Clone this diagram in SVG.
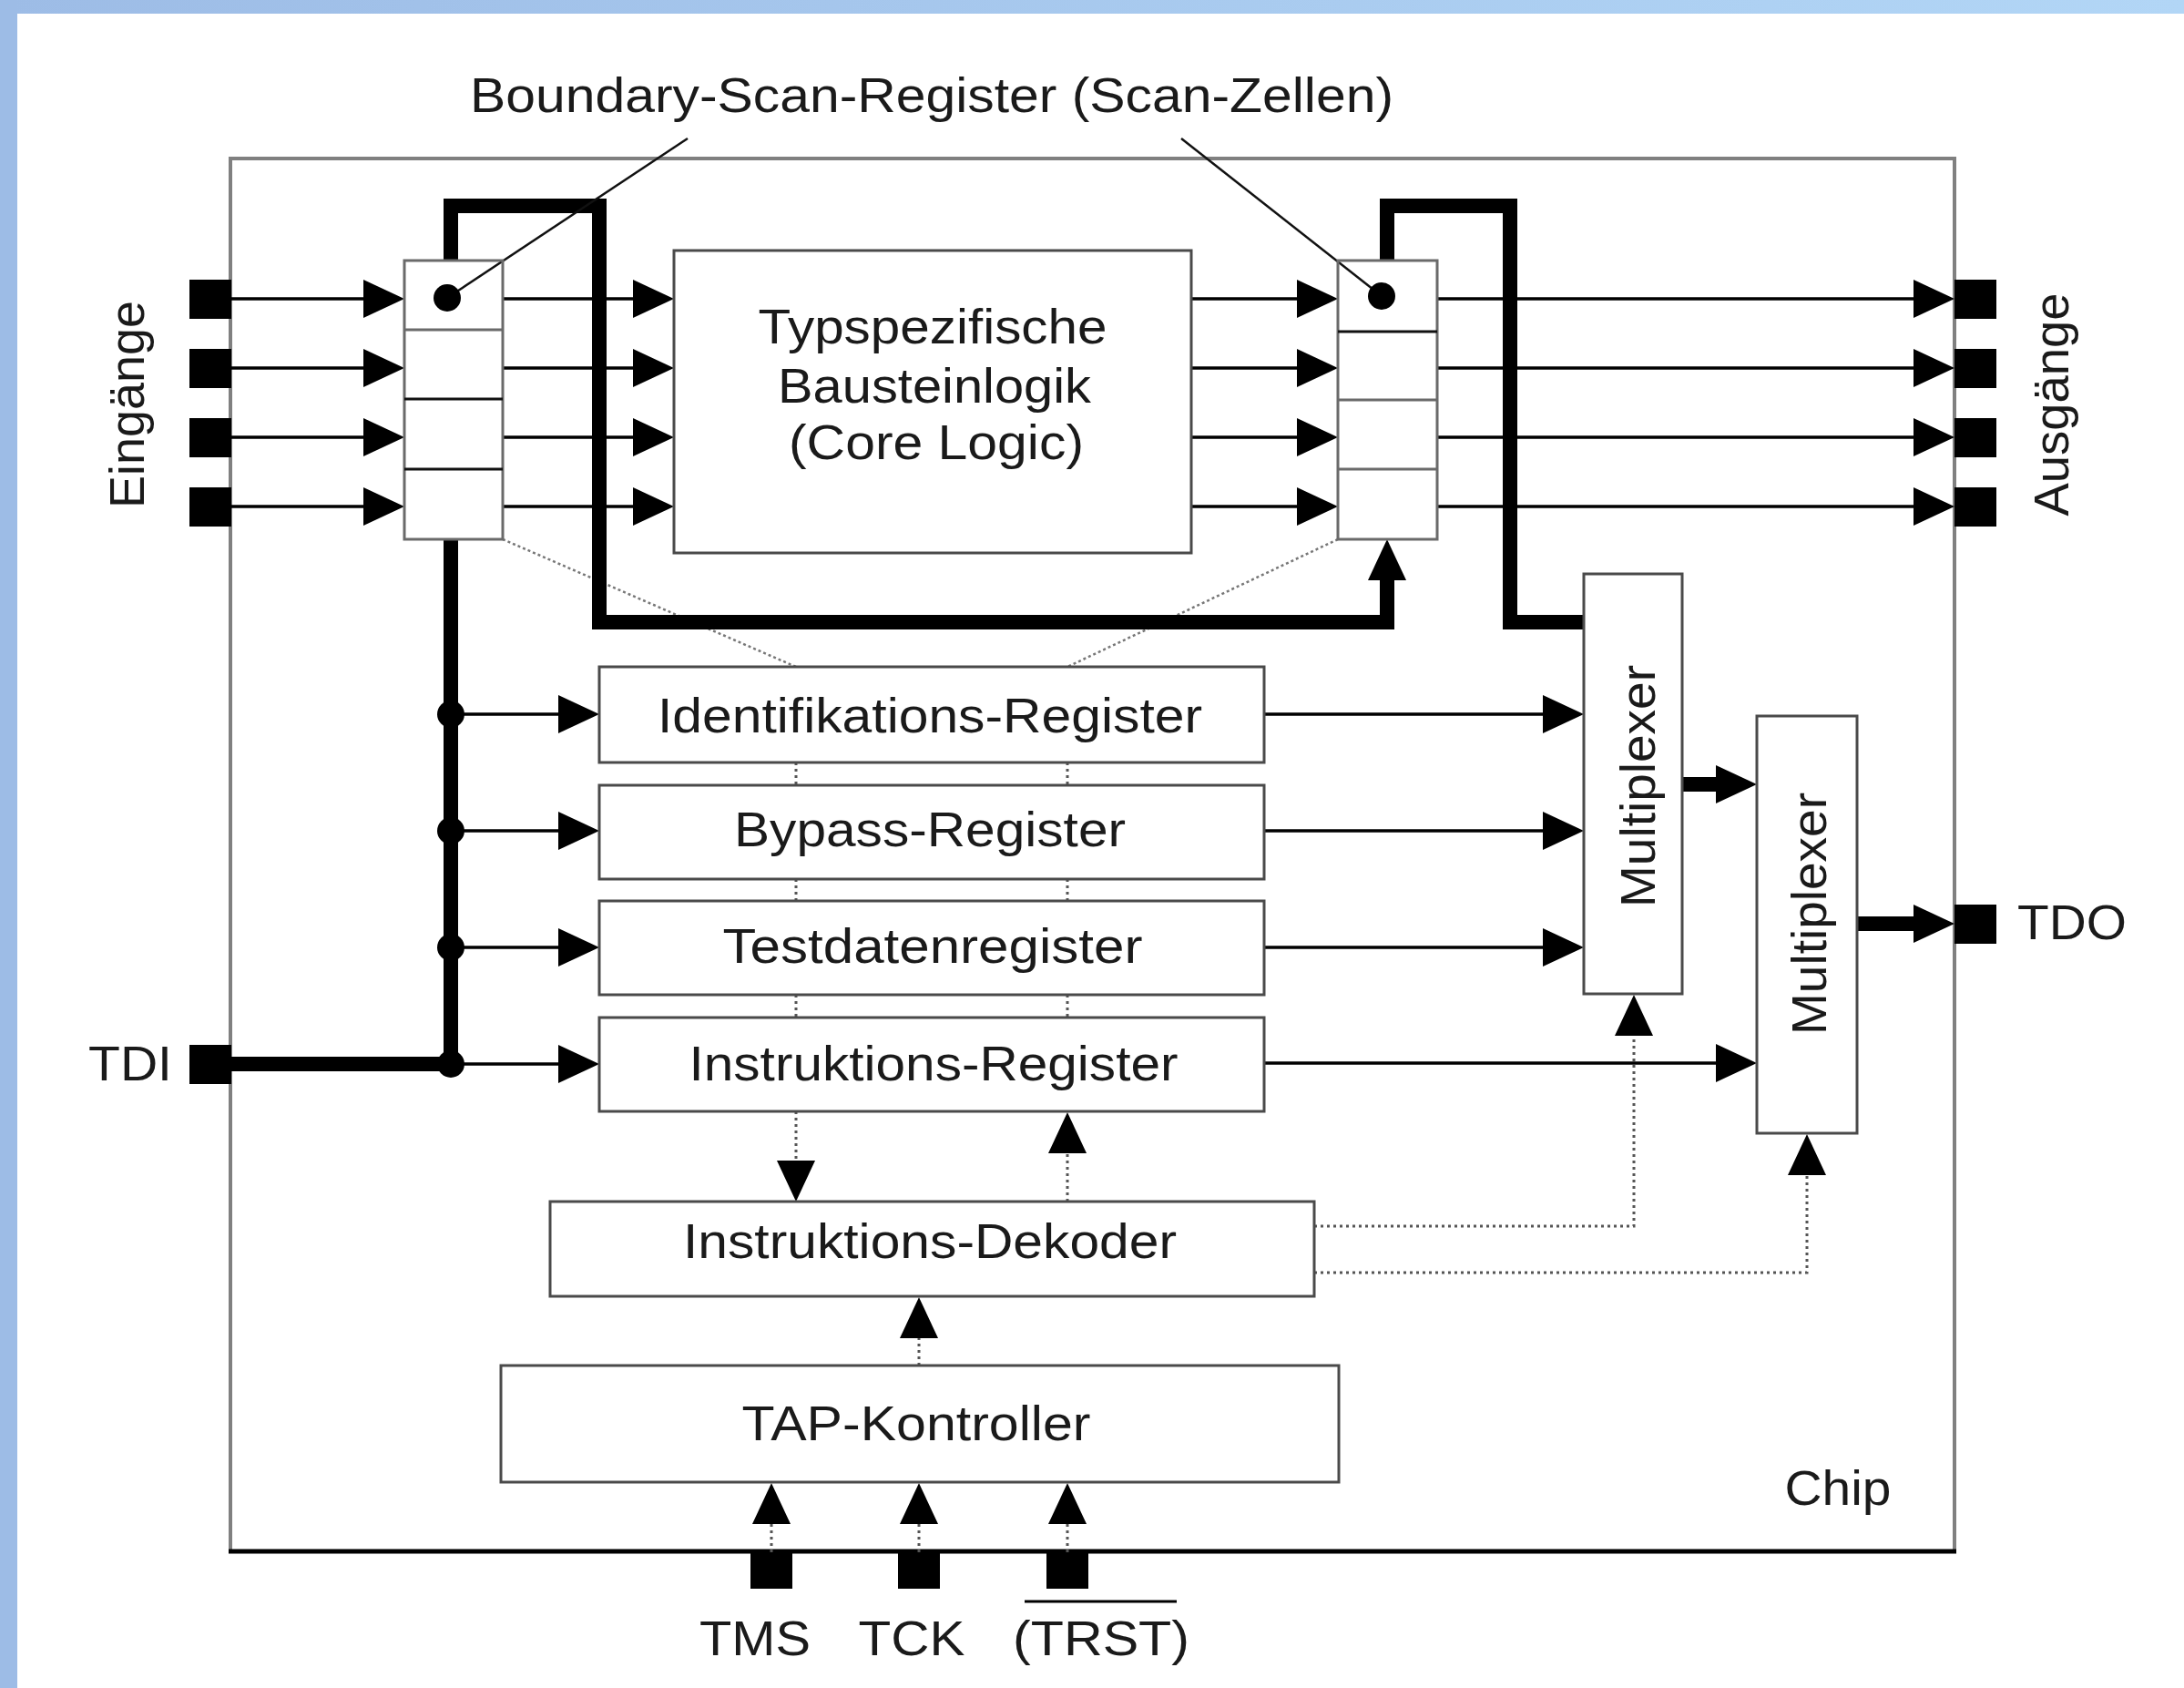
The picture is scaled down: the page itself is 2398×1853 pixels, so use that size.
<svg xmlns="http://www.w3.org/2000/svg" width="2398" height="1853" viewBox="0 0 2398 1853">
<defs>
<linearGradient id="topbar" x1="0" x2="1" y1="0" y2="0"><stop offset="0" stop-color="#9dbce6"/><stop offset="1" stop-color="#b2d6f6"/></linearGradient>
<marker id="ah" markerUnits="userSpaceOnUse" markerWidth="46" markerHeight="44" refX="0" refY="21" orient="auto" overflow="visible"><path d="M0,0 L45,21 L0,42 z" fill="#000"/></marker>
</defs>
<style>
.box{fill:#fff;stroke:#4a4a4a;stroke-width:3}
.cell{fill:none;stroke:#6a6a6a;stroke-width:3}
.thin{fill:none;stroke:#000;stroke-width:3.5}
.thick{fill:none;stroke:#000;stroke-width:16;stroke-linejoin:miter}
.dots{fill:none;stroke:#555;stroke-width:3;stroke-dasharray:3 4}
.fan{fill:none;stroke:#777;stroke-width:2.5;stroke-dasharray:3 3}
.lead{fill:none;stroke:#111;stroke-width:2.5}
.pin{fill:#000}
.arr{marker-end:url(#ah)}
text{font-family:'Liberation Sans',Arial,Helvetica,sans-serif;font-size:54px;fill:#1a1a1a}
</style>
<rect x="0" y="0" width="2398" height="1853" fill="#fff"/>
<rect x="0" y="0" width="2398" height="15" fill="url(#topbar)"/>
<rect x="0" y="0" width="19" height="1853" fill="#9dbce6"/>

<g id="chip">
<rect x="253" y="174" width="1893" height="1529" fill="none" stroke="#808080" stroke-width="4"/>
<line x1="251" y1="1703" x2="2148" y2="1703" stroke="#000" stroke-width="5"/>
<text x="2018" y="1652" text-anchor="middle" textLength="117" lengthAdjust="spacingAndGlyphs">Chip</text>
</g>

<g id="title">
<text x="1023" y="123" text-anchor="middle" textLength="1014" lengthAdjust="spacingAndGlyphs">Boundary-Scan-Register (Scan-Zellen)</text>
</g>

<g id="connectors">
<path class="fan" d="M552,592 L874,732"/>
<path class="fan" d="M1469,592 L1172,732"/>
<path class="thin arr" d="M253,328 H399"/>
<path class="thin arr" d="M253,404 H399"/>
<path class="thin arr" d="M253,480 H399"/>
<path class="thin arr" d="M253,556 H399"/>
<path class="thin arr" d="M552,328 H695"/>
<path class="thin arr" d="M552,404 H695"/>
<path class="thin arr" d="M552,480 H695"/>
<path class="thin arr" d="M552,556 H695"/>
<path class="thin arr" d="M1308,328 H1424"/>
<path class="thin arr" d="M1308,404 H1424"/>
<path class="thin arr" d="M1308,480 H1424"/>
<path class="thin arr" d="M1308,556 H1424"/>
<path class="thin arr" d="M1578,328 H2101"/>
<path class="thin arr" d="M1578,404 H2101"/>
<path class="thin arr" d="M1578,480 H2101"/>
<path class="thin arr" d="M1578,556 H2101"/>
<path class="thick arr" d="M495,286 V226 H658 V683 H1523 V637"/>
<path class="thick" d="M1523,286 V226 H1658 V683 H1739"/>
<path class="thick" d="M253,1168 H495 V592"/>
<path class="thin arr" d="M495,784 H613"/>
<path class="thin arr" d="M495,912 H613"/>
<path class="thin arr" d="M495,1040 H613"/>
<path class="thin arr" d="M495,1168 H613"/>
<circle cx="495" cy="784" r="15" fill="#000"/>
<circle cx="495" cy="912" r="15" fill="#000"/>
<circle cx="495" cy="1040" r="15" fill="#000"/>
<circle cx="495" cy="1168" r="15" fill="#000"/>
<path class="thin arr" d="M1388,784 H1694"/>
<path class="thin arr" d="M1388,912 H1694"/>
<path class="thin arr" d="M1388,1040 H1694"/>
<path class="thin arr" d="M1388,1167 H1884"/>
<path class="thick arr" d="M1847,861 H1884"/>
<path class="thick arr" d="M2039,1014 H2101"/>
<path class="dots" d="M874,837 V862 M874,965 V989 M874,1092 V1117"/>
<path class="dots" d="M1172,837 V862 M1172,965 V989 M1172,1092 V1117"/>
<path class="dots arr" d="M874,1220 V1274"/>
<path class="dots arr" d="M1172,1319 V1266"/>
<path class="dots arr" d="M1443,1346 H1794 V1137"/>
<path class="dots arr" d="M1443,1397 H1984 V1290"/>
<path class="dots arr" d="M1009,1499 V1469"/>
<path class="dots arr" d="M847,1704 V1673"/>
<path class="dots arr" d="M1009,1704 V1673"/>
<path class="dots arr" d="M1172,1704 V1673"/>
<path class="lead" d="M491,327 L755,152"/>
<path class="lead" d="M1517,325 L1297,152"/>
</g>

<g id="scan-cells-in">
<rect class="cell" x="444" y="286" width="108" height="306"/>
<line x1="444" y1="362" x2="552" y2="362" stroke="#6a6a6a" stroke-width="3"/>
<line x1="444" y1="438" x2="552" y2="438" stroke="#111" stroke-width="3"/>
<line x1="444" y1="515" x2="552" y2="515" stroke="#111" stroke-width="3"/>
<circle cx="491" cy="327" r="15" fill="#000"/>
</g>

<g id="scan-cells-out">
<rect class="cell" x="1469" y="286" width="109" height="306"/>
<line x1="1469" y1="364" x2="1578" y2="364" stroke="#111" stroke-width="3"/>
<line x1="1469" y1="439" x2="1578" y2="439" stroke="#6a6a6a" stroke-width="3"/>
<line x1="1469" y1="515" x2="1578" y2="515" stroke="#6a6a6a" stroke-width="3"/>
<circle cx="1517" cy="325" r="15" fill="#000"/>
</g>

<g id="core-logic">
<rect class="box" x="740" y="275" width="568" height="332"/>
<text x="1024" y="377" text-anchor="middle" textLength="383" lengthAdjust="spacingAndGlyphs">Typspezifische</text>
<text x="1026" y="442" text-anchor="middle" textLength="344" lengthAdjust="spacingAndGlyphs">Bausteinlogik</text>
<text x="1028" y="504" text-anchor="middle" textLength="324" lengthAdjust="spacingAndGlyphs">(Core Logic)</text>
</g>

<g id="id-register">
<rect class="box" x="658" y="732" width="730" height="105"/>
<text x="1021" y="804" text-anchor="middle" textLength="598" lengthAdjust="spacingAndGlyphs">Identifikations-Register</text>
</g>
<g id="bypass-register">
<rect class="box" x="658" y="862" width="730" height="103"/>
<text x="1021" y="929" text-anchor="middle" textLength="430" lengthAdjust="spacingAndGlyphs">Bypass-Register</text>
</g>
<g id="testdaten-register">
<rect class="box" x="658" y="989" width="730" height="103"/>
<text x="1024" y="1057" text-anchor="middle" textLength="461" lengthAdjust="spacingAndGlyphs">Testdatenregister</text>
</g>
<g id="instruktions-register">
<rect class="box" x="658" y="1117" width="730" height="103"/>
<text x="1025" y="1186" text-anchor="middle" textLength="537" lengthAdjust="spacingAndGlyphs">Instruktions-Register</text>
</g>

<g id="instruktions-dekoder">
<rect class="box" x="604" y="1319" width="839" height="104"/>
<text x="1021" y="1381" text-anchor="middle" textLength="542" lengthAdjust="spacingAndGlyphs">Instruktions-Dekoder</text>
</g>

<g id="tap-kontroller">
<rect class="box" x="550" y="1499" width="920" height="128"/>
<text x="1006" y="1581" text-anchor="middle" textLength="383" lengthAdjust="spacingAndGlyphs">TAP-Kontroller</text>
</g>

<g id="multiplexer-1">
<rect class="box" x="1739" y="630" width="108" height="461"/>
<text transform="translate(1817,863) rotate(-90)" text-anchor="middle" textLength="266" lengthAdjust="spacingAndGlyphs">Multiplexer</text>
</g>

<g id="multiplexer-2">
<rect class="box" x="1929" y="786" width="110" height="458"/>
<text transform="translate(2005,1003) rotate(-90)" text-anchor="middle" textLength="266" lengthAdjust="spacingAndGlyphs">Multiplexer</text>
</g>

<g id="inputs">
<rect class="pin" x="208" y="307" width="46" height="43"/>
<rect class="pin" x="208" y="383" width="46" height="43"/>
<rect class="pin" x="208" y="459" width="46" height="43"/>
<rect class="pin" x="208" y="535" width="46" height="43"/>
<text transform="translate(158,444) rotate(-90)" text-anchor="middle" textLength="228" lengthAdjust="spacingAndGlyphs">Eingänge</text>
</g>

<g id="outputs">
<rect class="pin" x="2146" y="307" width="46" height="43"/>
<rect class="pin" x="2146" y="383" width="46" height="43"/>
<rect class="pin" x="2146" y="459" width="46" height="43"/>
<rect class="pin" x="2146" y="535" width="46" height="43"/>
<text transform="translate(2271,444) rotate(-90)" text-anchor="middle" textLength="245" lengthAdjust="spacingAndGlyphs">Ausgänge</text>
</g>

<g id="tdi">
<rect class="pin" x="208" y="1147" width="46" height="43"/>
<text x="143" y="1186" text-anchor="middle" textLength="92" lengthAdjust="spacingAndGlyphs">TDI</text>
</g>

<g id="tdo">
<rect class="pin" x="2146" y="993" width="46" height="43"/>
<text x="2275" y="1031" text-anchor="middle" textLength="120" lengthAdjust="spacingAndGlyphs">TDO</text>
</g>

<g id="tms">
<rect class="pin" x="824" y="1704" width="46" height="40"/>
<text x="829" y="1817" text-anchor="middle" textLength="122" lengthAdjust="spacingAndGlyphs">TMS</text>
</g>
<g id="tck">
<rect class="pin" x="986" y="1704" width="46" height="40"/>
<text x="1001" y="1817" text-anchor="middle" textLength="117" lengthAdjust="spacingAndGlyphs">TCK</text>
</g>
<g id="trst">
<rect class="pin" x="1149" y="1704" width="46" height="40"/>
<line x1="1125" y1="1758" x2="1292" y2="1758" stroke="#000" stroke-width="3"/>
<text x="1209" y="1817" text-anchor="middle" textLength="194" lengthAdjust="spacingAndGlyphs">(TRST)</text>
</g>
</svg>
